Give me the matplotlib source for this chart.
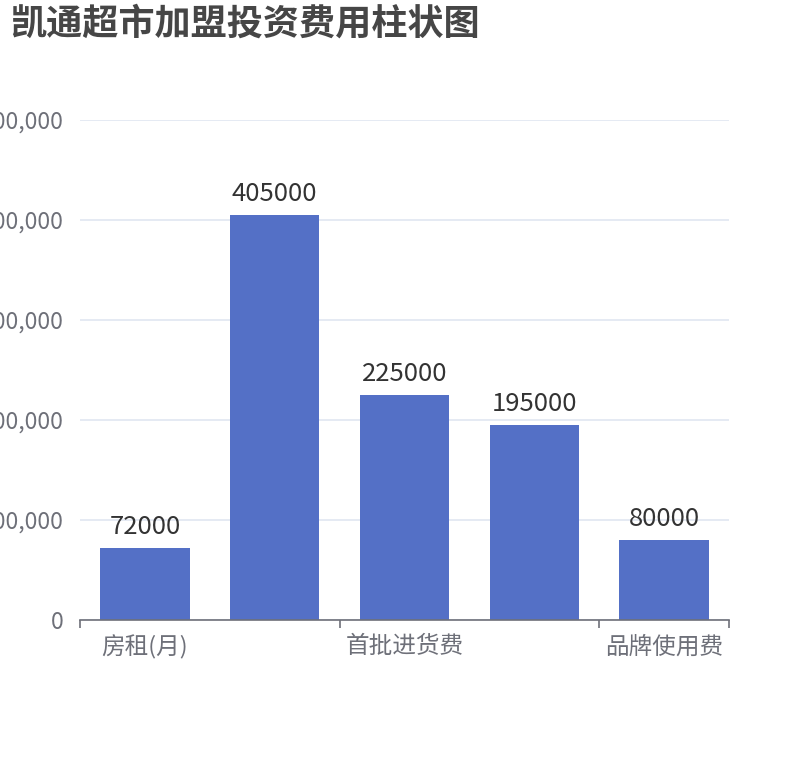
import matplotlib
matplotlib.use("Agg")
import matplotlib.pyplot as plt
from matplotlib.ticker import FuncFormatter, FixedLocator, NullFormatter

plt.rcParams['font.family'] = ['Noto Sans CJK SC', 'DejaVu Sans']

title = "凯通超市加盟投资费用柱状图"
categories = ["房租(月)", "装修费", "首批进货费", "设备费", "品牌使用费"]
values = [72000, 405000, 225000, 195000, 80000]
y_ticks = [0, 100000, 200000, 300000, 400000, 500000]

W, H = 810, 760
fig = plt.figure(figsize=(W / 100, H / 100), dpi=100)
ax = fig.add_axes([80 / W, 140 / H, (729 - 80) / W, 500 / H])

axis_color = "#6E7079"
grid_color = "#E0E6F1"
bar_color = "#5470C6"

x = list(range(len(categories)))
bars = ax.bar(x, values, width=0.69, color=bar_color, zorder=3)
for xi, v in zip(x, values):
    ax.annotate(str(v), (xi, v), xytext=(0, 6), textcoords="offset points",
                ha="center", va="bottom", fontsize=18.5, color="#333333", zorder=4)

ax.set_xlim(-0.5, len(categories) - 0.5)
ax.set_ylim(0, 500000)
ax.set_yticks(y_ticks)
ax.yaxis.set_major_formatter(FuncFormatter(lambda v, p: f"{int(v):,}"))
ax.tick_params(axis="y", length=0, pad=12, labelsize=16.5, labelcolor=axis_color)
ax.grid(axis="y", color=grid_color, linewidth=1.2, zorder=0)

# x axis: ticks at boundaries every 2 categories, labels every 2 categories
bounds = [i - 0.5 for i in range(0, len(categories), 2)] + [len(categories) - 0.5]
ax.xaxis.set_major_locator(FixedLocator(bounds))
ax.xaxis.set_major_formatter(NullFormatter())
ax.tick_params(axis="x", which="major", length=6, width=1.2, color=axis_color)
shown = list(range(0, len(categories), 2))
ax.xaxis.set_minor_locator(FixedLocator(shown))
ax.set_xticklabels([categories[i] for i in shown], minor=True)
ax.tick_params(axis="x", which="minor", length=0, pad=11, labelsize=17, labelcolor=axis_color)

for s in ["top", "right", "left"]:
    ax.spines[s].set_visible(False)
ax.spines["bottom"].set_color(axis_color)
ax.spines["bottom"].set_linewidth(1.2)
ax.spines["bottom"].set_zorder(5)

fig.text(10 / W, 1 - 6 / H, title, ha="left", va="top", fontsize=26,
         fontweight="bold", color="#464646")

fig.savefig("out.png", dpi=100)
